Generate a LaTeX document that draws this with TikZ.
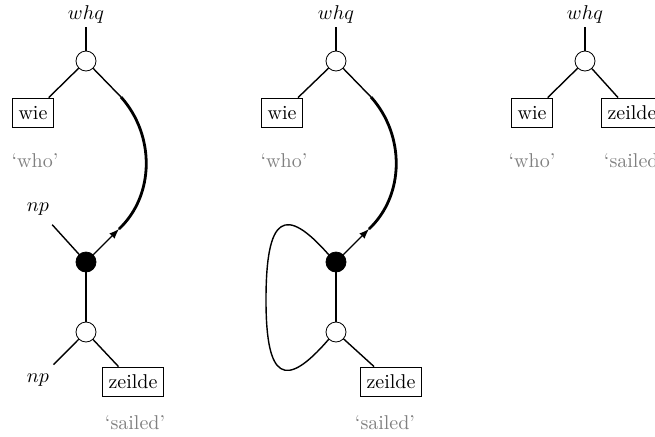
\documentclass[tikz,border=0pt]{standalone}
\usepackage{amssymb}
\usepackage{amsmath}
\usetikzlibrary{arrows}

\tikzset{
  cat/.style={inner sep=2pt},
  slot/.style={inner xsep=2pt, inner ysep=4.5pt},
  word/.style={draw, line width=0.9pt, inner xsep=3pt, minimum height=14.5pt},
  gloss/.style={text=gray},
  open/.style={circle, draw, fill=white, minimum size=10pt, inner sep=0pt},
  full/.style={circle, draw, fill=black, minimum size=10pt, inner sep=0pt},
  link/.style={line width=0.7pt},
  path/.style={line width=1.4pt}
}

\begin{document}
\begin{tikzpicture}[scale=0.5, x=1pt, y=-1pt]
	\clip (0,0) rectangle (655,436);
	% left: wie fills the np of zeilde
		\node[cat] (whqA) at (86,14) {$whq$};
		\node[open] (topA) at (86,61) {};
		\node[word] (wieA) at (33,113) {wie};
		\node[gloss] (whoA) at (35,161) {`who'};
		\node[full] (midA) at (86,262) {};
		\node[slot] (npA) at (38,209) {$np$};
		\node[open] (botA) at (86,332) {};
		\node[slot] (npB) at (38,380) {$np$};
		\node[word] (zeildeA) at (133,382) {zeilde};
		\node[gloss] (sailedA) at (135,423) {`sailed'};
		\coordinate (upA) at (121,97);
		\coordinate (dnA) at (119,229);
		\draw[link] (whqA) -- (topA);
		\draw[link] (topA) -- (wieA);
		\draw[link] (topA) -- (upA);
		\draw[path] (upA) .. controls (155,135) and (155,195) .. (dnA);
		\draw[link, -latex] (midA) -- (dnA);
		\draw[link] (npA) -- (midA);
		\draw[link] (midA) -- (botA);
		\draw[link] (botA) -- (npB);
		\draw[link] (botA) -- (zeildeA);
	% middle: the np slots closed into a loop
		\node[cat] (whqB) at (336,14) {$whq$};
		\node[open] (topB) at (336,61) {};
		\node[word] (wieB) at (282,113) {wie};
		\node[gloss] (whoB) at (284,161) {`who'};
		\node[full] (midB) at (336,262) {};
		\node[open] (botB) at (336,332) {};
		\node[word] (zeildeB) at (391,382) {zeilde};
		\node[gloss] (sailedB) at (385,423) {`sailed'};
		\coordinate (upB) at (371,97);
		\coordinate (dnB) at (369,229);
		\coordinate (loopB) at (266,300);
		\draw[link] (whqB) -- (topB);
		\draw[link] (topB) -- (wieB);
		\draw[link] (topB) -- (upB);
		\draw[path] (upB) .. controls (405,135) and (405,195) .. (dnB);
		\draw[link, -latex] (midB) -- (dnB);
		\draw[link] (midB) -- (botB);
		\draw[link] (botB) -- (zeildeB);
		\draw[link] (midB.135) .. controls (285,205) and (266,215) .. (loopB)
			.. controls (266,380) and (285,390) .. (botB.-135);
	% right: the result
		\node[cat] (whqC) at (585,14) {$whq$};
		\node[open] (topC) at (585,61) {};
		\node[word] (wieC) at (532,113) {wie};
		\node[gloss] (whoC) at (532,161) {`who'};
		\node[word] (zeildeC) at (632,113) {zeilde};
		\node[gloss] (sailedC) at (634,161) {`sailed'};
		\draw[link] (whqC) -- (topC);
		\draw[link] (topC) -- (wieC);
		\draw[link] (topC) -- (zeildeC);
\end{tikzpicture}
\end{document}
